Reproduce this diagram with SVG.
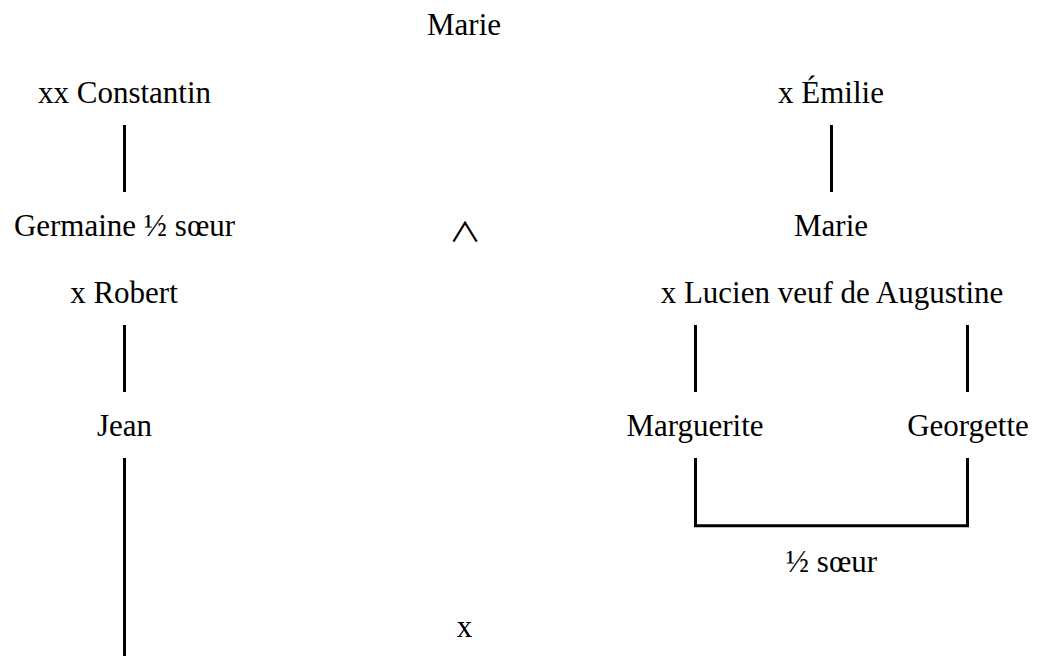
<svg xmlns="http://www.w3.org/2000/svg" width="1037" height="656" viewBox="0 0 1037 656">
  <style>
    text { font-family: "Liberation Serif", "Times New Roman", serif; font-size: 31px; fill: #000; text-anchor: middle; }
    .ln { stroke: #000; stroke-width: 3; fill: none; }
    .wedge { font-family: "Noto Sans CJK JP", sans-serif; }
  </style>
  <rect width="1037" height="656" fill="#fff"/>
  <g id="connectors">
    <line class="ln" x1="124.5" y1="125" x2="124.5" y2="192"/>
    <line class="ln" x1="124.5" y1="325" x2="124.5" y2="392"/>
    <line class="ln" x1="124.5" y1="458" x2="124.5" y2="656"/>
    <line class="ln" x1="831.5" y1="125" x2="831.5" y2="192"/>
    <line class="ln" x1="695.5" y1="325" x2="695.5" y2="392"/>
    <line class="ln" x1="967.5" y1="325" x2="967.5" y2="392"/>
    <polyline class="ln" points="695.5,458 695.5,525.8 967.5,525.8 967.5,458"/>
  </g>
  <g id="marie-top"><text x="464" y="35">Marie</text></g>
  <g id="constantin"><text x="124.5" y="103">xx Constantin</text></g>
  <g id="emilie"><text x="831" y="103">x Émilie</text></g>
  <g id="germaine"><text x="124.5" y="236">Germaine ½ sœur</text></g>
  <g id="wedge"><text class="wedge" transform="translate(465,242) scale(1.05,0.88)" x="0" y="0">∧</text></g>
  <g id="marie"><text x="831" y="236">Marie</text></g>
  <g id="robert"><text x="124" y="303">x Robert</text></g>
  <g id="lucien"><text x="832" y="303">x Lucien veuf de Augustine</text></g>
  <g id="jean"><text x="124.5" y="436">Jean</text></g>
  <g id="marguerite"><text x="695" y="436">Marguerite</text></g>
  <g id="georgette"><text x="968" y="436">Georgette</text></g>
  <g id="demi-soeur"><text x="831.5" y="572">½ sœur</text></g>
  <g id="x-bottom"><text x="464.5" y="637">x</text></g>
</svg>
